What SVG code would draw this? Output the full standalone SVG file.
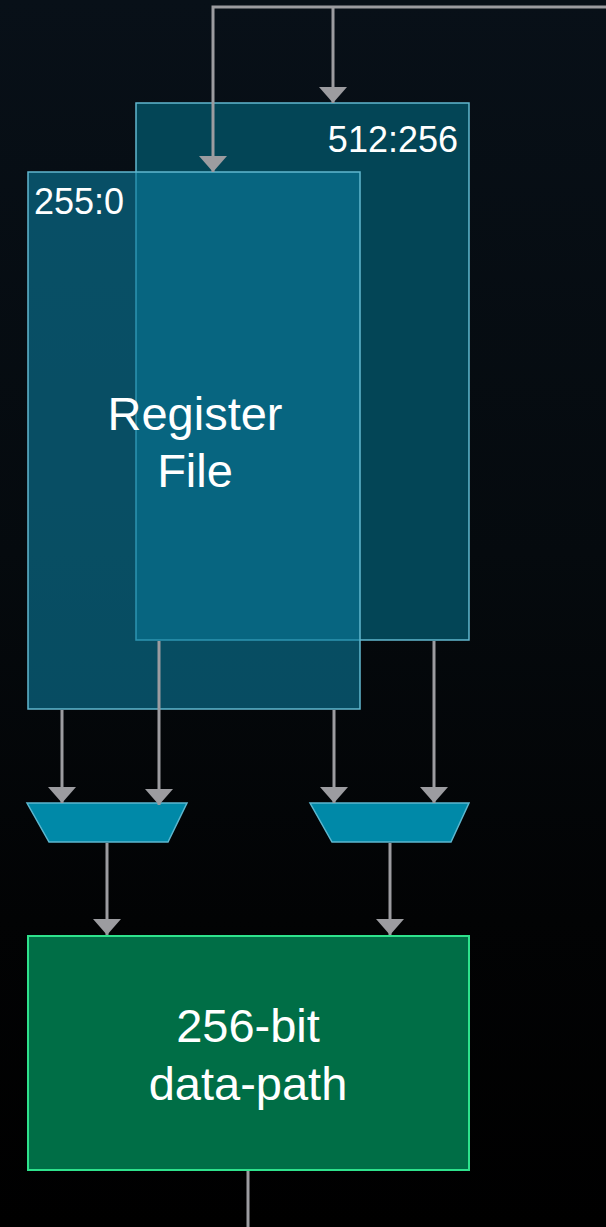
<svg xmlns="http://www.w3.org/2000/svg" width="606" height="1227" viewBox="0 0 606 1227">
<defs>
<linearGradient id="bg" x1="0" y1="0" x2="0" y2="1">
<stop offset="0" stop-color="#081018"/>
<stop offset="0.45" stop-color="#050a0e"/>
<stop offset="0.75" stop-color="#020304"/>
<stop offset="1" stop-color="#000000"/>
</linearGradient>
<marker id="ah" markerUnits="userSpaceOnUse" markerWidth="28" markerHeight="17" refX="14" refY="16" orient="0" viewBox="0 0 28 17">
<path d="M0,0 L28,0 L14,16 Z" fill="#9c9ca0"/>
</marker>
<style>
.reg{stroke:#62b8cf;stroke-width:1.5}
.mux{fill:#0089a8;stroke:#5cb7cf;stroke-width:1.5}
.conn{fill:none;stroke:#9c9ca0;stroke-width:3}
.lbl{font-family:"Liberation Sans",Arial,sans-serif;fill:#ffffff}
</style>
</defs>
<rect width="606" height="1227" fill="url(#bg)"/>
<g id="reg-hi">
<rect class="reg" x="136" y="103" width="333" height="537" fill="#034556"/>
<text class="lbl" x="458" y="152" font-size="36" text-anchor="end">512:256</text>
</g>
<g id="reg-lo">
<rect class="reg" x="28" y="172" width="332" height="537" fill="#0a7b9d" fill-opacity="0.6"/>
<text class="lbl" x="34" y="214" font-size="36">255:0</text>
<text class="lbl" x="195" y="430" font-size="47" text-anchor="middle">Register</text>
<text class="lbl" x="195" y="487" font-size="47" text-anchor="middle">File</text>
</g>
<g id="mux-left">
<polygon class="mux" points="27,803 187,803 168,842 49,842"/>
</g>
<g id="mux-right">
<polygon class="mux" points="310,803 469,803 451,842 332,842"/>
</g>
<g id="datapath">
<rect x="28" y="936" width="441" height="234" fill="#006e46" stroke="#2ee28c" stroke-width="2"/>
<text class="lbl" x="248" y="1042" font-size="47" text-anchor="middle">256-bit</text>
<text class="lbl" x="248" y="1100" font-size="47" text-anchor="middle">data-path</text>
</g>
<g id="connectors">
<polyline class="conn" points="606,7 213,7 213,172" marker-end="url(#ah)"/>
<line class="conn" x1="333" y1="7" x2="333" y2="103" marker-end="url(#ah)"/>
<line class="conn" x1="62" y1="710" x2="62" y2="803" marker-end="url(#ah)"/>
<line class="conn" x1="159" y1="641" x2="159" y2="805" marker-end="url(#ah)"/>
<line class="conn" x1="334" y1="710" x2="334" y2="803" marker-end="url(#ah)"/>
<line class="conn" x1="434" y1="641" x2="434" y2="803" marker-end="url(#ah)"/>
<line class="conn" x1="107" y1="843" x2="107" y2="935" marker-end="url(#ah)"/>
<line class="conn" x1="390" y1="843" x2="390" y2="935" marker-end="url(#ah)"/>
<line class="conn" x1="248" y1="1171" x2="248" y2="1227"/>
</g>
</svg>
